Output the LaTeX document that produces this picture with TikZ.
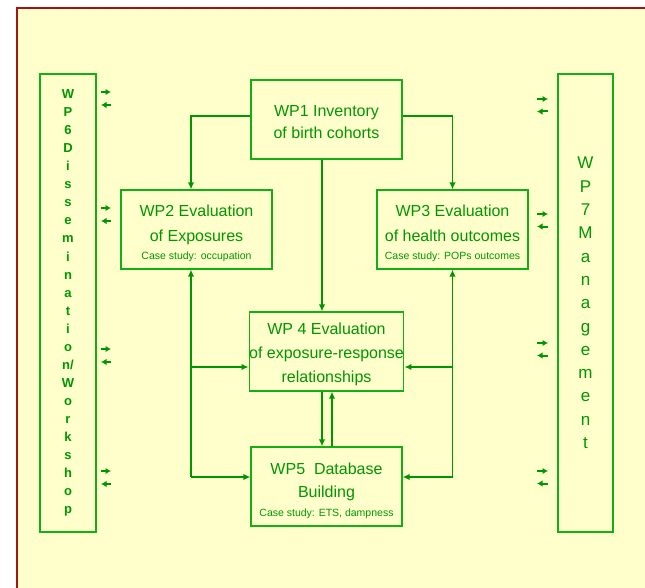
\documentclass[tikz,border=0pt]{standalone}
\usepackage{fontspec}
\setmainfont{Liberation Sans}
\usetikzlibrary{arrows.meta,positioning,calc}
\definecolor{wpgreen}{RGB}{0,150,0}
\definecolor{boxgreen}{RGB}{20,175,20}
\definecolor{paper}{RGB}{255,255,204}
\definecolor{framered}{RGB}{165,20,20}
\newcommand{\casefont}{\fontsize{10.5}{12}\selectfont}
\newcommand{\lift}[1]{\rule{0pt}{#1}}
\tikzset{
	wpbox/.style={draw=boxgreen, line width=1.2pt, minimum width=151pt, minimum height=79pt, inner sep=0pt, align=center, text=wpgreen, font=\fontsize{16}{23}\selectfont},
	sidebox/.style={draw=boxgreen, line width=1.2pt, minimum height=458pt, inner sep=0pt, align=center, text=wpgreen},
	link/.style={draw=wpgreen, line width=1.8pt, -{Latex[length=7pt,width=6.5pt]}},
	tick/.style={draw=wpgreen, line width=2pt, -{Latex[length=5.5pt,width=6.5pt]}}
}
\begin{document}
\begin{tikzpicture}[x=1pt,y=-1pt]
		\useasboundingbox (0,0) rectangle (645,588);
		\fill[paper] (17,8) rectangle (645,588);
		\draw[framered, line width=2.5pt] (17,588) -- (17,8) -- (645,8);

		\node[wpbox, font=\fontsize{16}{22}\selectfont] (wp1) at (326.5,119.5) {\lift{15.7pt}WP1 Inventory\\of birth cohorts};
		\node[wpbox, font=\fontsize{16}{25}\selectfont] (wp2) at (196.5,229.5) {\lift{18.7pt}WP2 Evaluation\\of Exposures\\[-7pt]{\casefont Case study: occupation}};
		\node[wpbox, font=\fontsize{16}{25}\selectfont] (wp3) at (452.5,229.5) {\lift{18.7pt}WP3 Evaluation\\of health outcomes\\[-7pt]{\casefont Case study: POPs outcomes}};
		\node[wpbox, font=\fontsize{16}{24}\selectfont] (wp4) at (326.5,351.5) {\lift{16.7pt}WP 4 Evaluation\\of exposure-response\\relationships};
		\node[wpbox] (wp5) at (326.5,486.5) {\lift{19.7pt}WP5\ \ Database\\Building\\[-4pt]{\casefont Case study: ETS, dampness}};

		\node[sidebox, minimum width=56pt, font=\bfseries\fontsize{13}{18.05}\selectfont] (wp6) at (68,303)
			{W\\P\\6\\D\\i\\s\\s\\e\\m\\i\\n\\a\\t\\i\\o\\n/\\W\\o\\r\\k\\s\\h\\o\\p};
		\node[sidebox, minimum width=55pt, font=\fontsize{17}{23.3}\selectfont] (wp7) at (585.5,303)
			{W\\P\\7\\M\\a\\n\\a\\g\\e\\m\\e\\n\\t};

		\coordinate (l4) at ([yshift=-15.5pt]wp4.west);
		\coordinate (l5) at ([yshift=9.5pt]wp5.west);
		\coordinate (r4) at ([yshift=-15.5pt]wp4.east);
		\coordinate (r5) at ([yshift=9.5pt]wp5.east);
		\coordinate (lbot) at ([xshift=-5.5pt]wp2.south |- l5);
		\coordinate (rbot) at (wp3.south |- r5);

		\draw[link] ([yshift=3.5pt]wp1.west) -| ([xshift=-5.5pt]wp2.north);
		\draw[link] ([yshift=3.5pt]wp1.east) -| (wp3.north);
		\draw[link] ([xshift=-4.5pt]wp1.south) -- ([xshift=-4.5pt]wp4.north);
		\draw[link] (lbot) -- ([xshift=-5.5pt]wp2.south);
		\draw[link] (rbot) -- (wp3.south);
		\draw[link] (lbot |- l4) -- (l4);
		\draw[link] (lbot) -- (l5);
		\draw[link] (rbot |- r4) -- (r4);
		\draw[link] (rbot) -- (r5);
		\draw[link] ([xshift=-4.5pt]wp4.south) -- ([xshift=-4.5pt]wp5.north);
		\draw[link] ([xshift=5.5pt]wp5.north) -- ([xshift=5.5pt]wp4.south);

		\foreach \y in {92,208,349,471} {
			\draw[tick] (101,\y) -- (111,\y);
			\draw[tick] (111,\y+13) -- (101,\y+13);
		}
		\foreach \y in {99,214,343,471} {
			\draw[tick] (537,\y) -- (548,\y);
			\draw[tick] (548,\y+12.5) -- (537,\y+12.5);
		}
\end{tikzpicture}
\end{document}
